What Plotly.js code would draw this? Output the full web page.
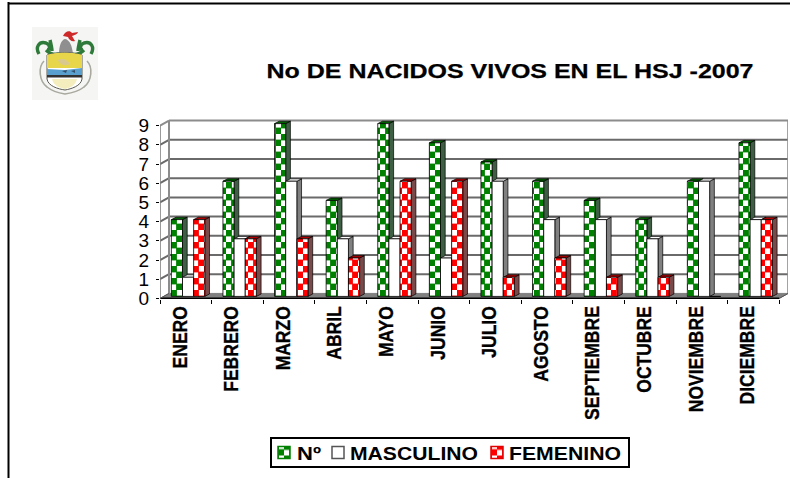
<!DOCTYPE html>
<html><head><meta charset="utf-8">
<script src="https://cdn.plot.ly/plotly-3.0.1.min.js"></script>
<style>html,body{margin:0;padding:0;background:#fff}#c{width:790px;height:478px}</style></head>
<body><div id="c"></div>
<script>
const months=['ENERO','FEBRERO','MARZO','ABRIL','MAYO','JUNIO','JULIO','AGOSTO','SEPTIEMBRE','OCTUBRE','NOVIEMBRE','DICIEMBRE'];
const numero=[4,6,9,5,9,8,7,6,5,4,6,8];
const masculino=[1,3,6,3,3,2,6,4,4,3,6,4];
const femenino=[4,3,3,2,6,6,1,2,1,1,0,4];
const yTicks=[0,1,2,3,4,5,6,7,8,9];

const W=790,H=478,L=160,R=788,T=119,B=299;
const pxX=51.6,pxY=19.2;
const xMin=-0.5,xMax=xMin+(R-L)/pxX,yMin=-0.03,yMax=yMin+(B-T)/pxY;
const dx=9/pxX,dy=5/pxY;          // wall depth
const bdx=4.7/pxX,bdy=2.4/pxY;    // bar depth
const sy=2/pxY;                   // bars stand this far back on the floor
const barW=0.216,offs=[-0.28,-0.064,0.152];
const series=[
 {name:'Nº',v:numero,fill:'#008000',top:'#005f00',side:'#3f5f45',legend:'#008000'},
 {name:'MASCULINO',v:masculino,fill:'#ffffff',top:'#ffffff',side:'#808080',legend:'#555555'},
 {name:'FEMENINO',v:femenino,fill:'#ff0000',top:'#b00000',side:'#7a4a4a',legend:'#e00000'}
];
const poly=(p,fill,line,w)=>({type:'path',xref:'x',yref:'y',layer:'below',
  path:'M'+p.map(q=>q[0]+','+q[1]).join('L')+'Z',fillcolor:fill,line:{color:line,width:w}});
const seg=(x0,y0,x1,y1,c,w)=>({type:'line',xref:'x',yref:'y',layer:'below',x0,y0,x1,y1,line:{color:c,width:w}});
const last=months.length-0.5;
let shapes=[];
shapes.push(poly([[xMin,0],[last,0],[last+dx,dy],[xMin+dx,dy]],'#808080','#808080',1));
yTicks.forEach(t=>{
  const c=t===9?'#8c8c8c':'#6a6a6a';
  if(t>0){shapes.push(seg(xMin,t,xMin+dx,t+dy,c,2));shapes.push(seg(xMin+dx,t+dy,last+dx,t+dy,c,2));}
});
shapes.push(seg(xMin+dx,dy,xMin+dx,9+dy,'#8c8c8c',2));
shapes.push(seg(last+dx,dy,last+dx,9+dy,'#8c8c8c',2));
months.forEach((m,i)=>{
  series.forEach((s,k)=>{
    const h=s.v[i]; if(!h) return;
    const a=i+offs[k],b=a+barW;
    shapes.push(poly([[b,sy],[b+bdx,sy+bdy],[b+bdx,h+sy+bdy],[b,h+sy]],s.side,'#000000',0.7));
    shapes.push(poly([[a,h+sy],[b,h+sy],[b+bdx,h+sy+bdy],[a+bdx,h+sy+bdy]],s.top,'#000000',0.7));
  });
});
shapes.push(seg(xMin,0,last,0,'#000000',1.6));
shapes.push(seg(last,0,last+dx,dy,'#555555',1));
shapes.push(seg(xMin,0,xMin,9,'#808080',1.6));
shapes.push(seg(xMin,0,xMin+dx,dy,'#555555',1));
const px=v=>(v-L)/(R-L), py=v=>(B-v)/(B-T);
shapes.push({type:'line',xref:'paper',yref:'paper',x0:px(8.5),x1:px(8.5),y0:py(2),y1:py(478),line:{color:'#000',width:2}});
shapes.push({type:'line',xref:'paper',yref:'paper',x0:px(8),x1:px(790),y0:py(3.5),y1:py(3.5),line:{color:'#000',width:2}});

const crest=`<svg xmlns='http://www.w3.org/2000/svg' width='66' height='73' viewBox='0 0 66 73'>
<defs><filter id='b'><feGaussianBlur stdDeviation='0.6'/></filter></defs>
<rect width='66' height='73' fill='#f5f5f3'/>
<g filter='url(#b)'>
<path d='M7 27c-4-7 0-13 7-11 5 2 4 7 1 7M14 23c4 4 9 5 13 4M18 13c1 4 2 8 2 11' fill='none' stroke='#2f7a3a' stroke-width='3.4'/>
<path d='M59 27c4-7 0-13-7-11-5 2-4 7-1 7M52 23c-4 4-9 5-13 4M48 13c-1 4-2 8-2 11' fill='none' stroke='#2f7a3a' stroke-width='3.4'/>
<path d='M27 27c0-8 2-14 6-15 5 1 7 7 8 15z' fill='#8f8f8f'/>
<path d='M31 9c2-5 7-6 9-3l6-1c-1 3-4 3-6 4l3 5c-3 1-6-1-7-4z' fill='#cf2b2b'/>
<path d='M15 28c8-3 27-3 35 0v24c-1 7-11 10-17 11-7-1-17-4-18-11z' fill='#ffffff' stroke='#5a5a50' stroke-width='1'/>
<path d='M15 28c8-3 27-3 35 0v13H15z' fill='#e7d64a'/>
<path d='M26 33c4-2 9-1 12 4-3 2-10 2-12-4z' fill='#d9c98f'/>
<path d='M15 42l18 1 17-2v7H15z' fill='#5aa0cf'/>
<path d='M30 44l5-1-1 3z M39 44l4-1v3z' fill='#35506a'/>
<path d='M15 48h35v2.4H15z' fill='#333333'/>
<path d='M20 52h25c-1 6-7 9-12 10-6-1-12-4-13-10z' fill='#f4eebe'/>
<path d='M12 34c-6 6-5 20 3 26 5 4 12 6 18 7 7-1 14-3 19-7 8-6 9-20 3-26' fill='none' stroke='#a9a9a0' stroke-width='1.6'/>
</g></svg>`;

const traces=series.map((s,k)=>({type:'bar',name:s.name,x:months,y:s.v,yaxis:'y2',width:barW,offset:offs[k],
  marker:{color:'#ffffff',line:{color:'#000000',width:0.8},
    pattern:k===1?{shape:''}:{shape:'+',fgcolor:s.fill,bgcolor:'#ffffff',size:12,solidity:0.5}},
  hoverinfo:'x+y+name'}));

const layout={width:W,height:H,margin:{l:L,r:W-R,t:T,b:H-B,autoexpand:false},paper_bgcolor:'#fff',plot_bgcolor:'rgba(0,0,0,0)',
  barmode:'overlay',showlegend:true,
  font:{family:'"Liberation Sans",Arial,sans-serif',color:'#000'},
  title:{text:'No DE NACIDOS VIVOS EN EL HSJ -2007',font:{size:21,weight:'bold',color:'#000'},x:510/W,xanchor:'center',y:1-(71/H),yanchor:'middle'},
  xaxis:{type:'category',categoryorder:'array',categoryarray:months,range:[xMin,xMax],
    tickson:'boundaries',ticks:'outside',ticklen:4,tickwidth:1,tickcolor:'#000',tickangle:-90,tickfont:{size:21,weight:'bold'},showgrid:false,showline:false,zeroline:false,ticklabelstandoff:2,ticklabelshift:-6},
  yaxis:{range:[yMin,yMax],tickmode:'array',tickvals:yTicks,ticks:'outside',ticklen:3,tickwidth:1,tickcolor:'#000',tickfont:{size:19},showgrid:false,showline:false,zeroline:false,ticklabelstandoff:3},
  yaxis2:{overlaying:'y',side:'left',range:[yMin-sy,yMax-sy],visible:false},
  legend:{orientation:'h',x:px(270),xanchor:'left',y:py(437),yanchor:'top',bgcolor:'#fff',bordercolor:'#000',borderwidth:2,font:{size:18.6,weight:'bold'},traceorder:'normal'},
  shapes:shapes,
  images:[{source:'data:image/svg+xml;utf8,'+encodeURIComponent(crest),xref:'paper',yref:'paper',x:px(32),y:py(27),sizex:66/(R-L),sizey:73/(B-T),sizing:'stretch',xanchor:'left',yanchor:'top',layer:'above'}]
};
const legendBox={x:270,y:437,w:360,h:31};
const legendItems=[{sw:284,tx:297,tw:24},{sw:338,tx:350,tw:128},{sw:497,tx:509,tw:112}];

Plotly.newPlot('c',traces,layout,{displayModeBar:false,staticPlot:true}).then(gd=>{
  const ns='http://www.w3.org/2000/svg';
  document.querySelectorAll('#c pattern').forEach(p=>{
    const inner=p.querySelector('path');
    if(!inner) return;
    const col=(inner.style.stroke||inner.getAttribute('stroke')||inner.style.fill);
    const w=11,h=12;
    p.setAttribute('width',w);p.setAttribute('height',h);p.setAttribute('patternUnits','userSpaceOnUse');
    p.setAttribute('viewBox','0 0 '+w+' '+h);
    p.setAttribute('patternTransform','translate(0,3)');
    while(p.firstChild)p.removeChild(p.firstChild);
    const bgr=document.createElementNS(ns,'rect');
    bgr.setAttribute('width',w);bgr.setAttribute('height',h);bgr.setAttribute('fill','#fff');p.appendChild(bgr);
    [[0,0],[5.5,6]].forEach(a=>{
      const r=document.createElementNS(ns,'rect');
      r.setAttribute('x',a[0]-0.4);r.setAttribute('y',a[1]-0.4);r.setAttribute('width',6.3);r.setAttribute('height',6.8);r.setAttribute('fill',col);
      p.appendChild(r);
    });
  });
  const t=document.querySelector('#c .gtitle');
  if(t){t.setAttribute('textLength',487);t.setAttribute('lengthAdjust','spacingAndGlyphs');t.style.stroke='#000';t.style.strokeWidth='0.25px';}
  document.querySelectorAll('#c .xtick text').forEach(tx=>{
    const n=tx.getComputedTextLength();
    tx.setAttribute('textLength',n*17.5/21);tx.setAttribute('lengthAdjust','spacingAndGlyphs');
    tx.style.stroke='#000';tx.style.strokeWidth='0.35px';
  });
  const lg=document.querySelector('#c .legend');
  if(lg){
    lg.setAttribute('transform','translate('+legendBox.x+','+legendBox.y+')');
    const bg=lg.querySelector('.bg');
    bg.setAttribute('x',1);bg.setAttribute('y',1);
    bg.setAttribute('width',legendBox.w-2);bg.setAttribute('height',legendBox.h-2);
    lg.querySelectorAll('clipPath rect').forEach(r=>{r.setAttribute('width',legendBox.w);r.setAttribute('height',legendBox.h);});
    lg.querySelectorAll('.traces').forEach((g,i)=>{
      const it=legendItems[i];
      const tx=it.sw-legendBox.x-20;
      g.setAttribute('transform','translate('+tx+','+(legendBox.h/2)+')');
      const tt=g.querySelector('.legendtext');
      tt.setAttribute('x',it.tx-legendBox.x-tx);
      tt.setAttribute('textLength',it.tw);tt.setAttribute('lengthAdjust','spacingAndGlyphs');
      const sw=g.querySelector('.legendpoints path');
      if(sw){sw.style.stroke=series[i].legend;sw.style.strokeWidth='1.5px';}
    });
  }
});
</script></body></html>
